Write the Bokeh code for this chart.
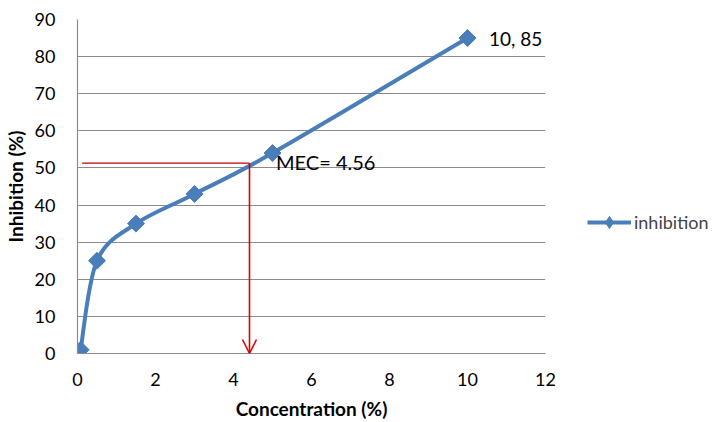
import math
from bokeh.plotting import figure
from bokeh.models import (Range1d, FixedTicker, Legend, LegendItem, Arrow, OpenHead,
                          Label, ColumnDataSource)
from bokeh.embed import file_html
from bokeh.resources import INLINE

# data
conc = [0.08, 0.5, 1.5, 3, 5, 10]
inhibition = [1, 25, 35, 43, 54, 85]
mec_x = 4.41
mec_y = 51.3
x_ticks = [0, 2, 4, 6, 8, 10, 12]
y_ticks = [0, 10, 20, 30, 40, 50, 60, 70, 80, 90]

FONT = "Lato"
BLUE = "#4A7EBB"

p = figure(width=700, height=413, output_backend="svg", toolbar_location=None,
           x_range=Range1d(0, 12), y_range=Range1d(0, 90),
           min_border_left=69, min_border_right=163, min_border_top=19, min_border_bottom=60)
p.frame_width = 468
p.frame_height = 334
p.outline_line_color = None
p.background_fill_color = "white"

p.xaxis.ticker = FixedTicker(ticks=x_ticks)
p.yaxis.ticker = FixedTicker(ticks=y_ticks)
p.xgrid.grid_line_color = None
p.ygrid.grid_line_color = "#8c8c8c"
p.ygrid.grid_line_width = 1.2
for ax in (p.xaxis, p.yaxis):
    ax.axis_line_color = "#8c8c8c"
    ax.axis_line_width = 1.2
    ax.major_tick_line_color = None
    ax.minor_tick_line_color = None
    ax.major_label_text_font = FONT
    ax.major_label_text_font_size = "18px"
    ax.major_label_text_color = "black"
    ax.axis_label_text_font = FONT
    ax.axis_label_text_font_size = "19px"
    ax.axis_label_text_font_style = "bold"
    ax.axis_label_text_color = "black"
p.xaxis.axis_label = "Concentration (%)"
p.yaxis.axis_label = "Inhibition (%)"
p.xaxis.major_label_standoff = 13
p.yaxis.major_label_standoff = 16
p.xaxis.axis_label_standoff = 8
p.yaxis.axis_label_standoff = 5

# smooth (Catmull-Rom style) bezier segments computed from the data points
n = len(conc)
x0s, y0s, x1s, y1s, cx0, cy0, cx1, cy1 = [], [], [], [], [], [], [], []
for i in range(n - 1):
    pm = (conc[max(i - 1, 0)], inhibition[max(i - 1, 0)])
    p0 = (conc[i], inhibition[i])
    p1 = (conc[i + 1], inhibition[i + 1])
    pp = (conc[min(i + 2, n - 1)], inhibition[min(i + 2, n - 1)])
    x0s.append(p0[0]); y0s.append(p0[1]); x1s.append(p1[0]); y1s.append(p1[1])
    cx0.append(p0[0] + (p1[0] - pm[0]) / 6); cy0.append(p0[1] + (p1[1] - pm[1]) / 6)
    cx1.append(p1[0] - (pp[0] - p0[0]) / 6); cy1.append(p1[1] - (pp[1] - p0[1]) / 6)
src = ColumnDataSource(dict(x0=x0s, y0=y0s, x1=x1s, y1=y1s, cx0=cx0, cy0=cy0, cx1=cx1, cy1=cy1))

# red guide lines
p.segment(x0=[0.12], y0=[mec_y], x1=[mec_x], y1=[mec_y], line_color="#C00000", line_width=1.3)
p.add_layout(Arrow(x_start=mec_x, y_start=mec_y, x_end=mec_x, y_end=0,
                   line_color="#E00000", line_width=1.6,
                   end=OpenHead(size=14, line_color="#E00000", line_width=1.6)))

curve = p.bezier(x0="x0", y0="y0", x1="x1", y1="y1", cx0="cx0", cy0="cy0", cx1="cx1", cy1="cy1",
                 source=src, line_color=BLUE, line_width=4)
# marker used for the legend swatch (hidden beneath the data markers)
legend_marker = p.scatter(conc, inhibition, marker="diamond", size=8,
                          fill_color=BLUE, line_color=BLUE)
pts = p.scatter(conc, inhibition, marker="square", angle=math.pi / 4, size=12,
                fill_color=BLUE, line_color=BLUE)

p.add_layout(Label(x=5.09, y=mec_y + 0.3, text="MEC= 4.56", text_font=FONT, text_font_size="20px",
                   text_baseline="middle", text_color="black"))
p.add_layout(Label(x=conc[-1] + 0.55, y=inhibition[-1], text=f"{conc[-1]}, {inhibition[-1]}",
                   text_font=FONT, text_font_size="19px", text_baseline="middle", text_color="black"))

legend = Legend(items=[LegendItem(label="inhibition", renderers=[curve, legend_marker])],
                location=(42, 116), border_line_color=None, background_fill_alpha=0,
                label_text_font=FONT, label_text_font_size="18px", glyph_width=44,
                glyph_height=30, label_standoff=3, padding=0, margin=0)
p.add_layout(legend, "right")

open("out.html", "w").write(file_html(p, INLINE))
